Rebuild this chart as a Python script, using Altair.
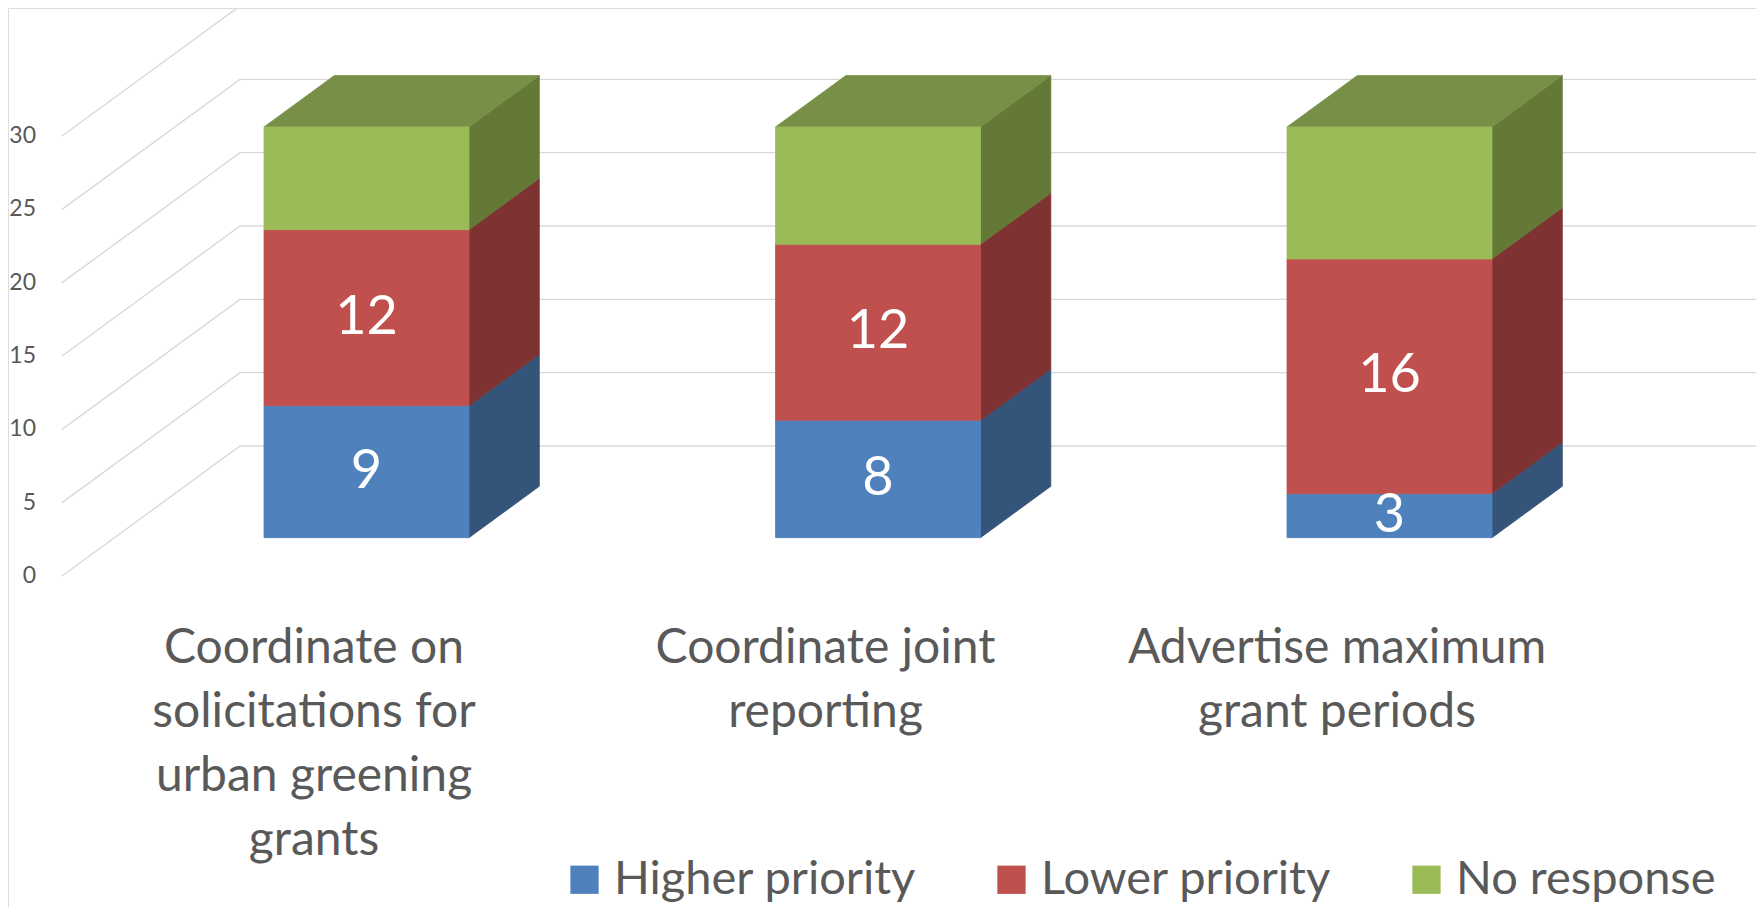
import altair as alt
import pandas as pd

# ---------------- data ----------------
categories = [
    "Coordinate on solicitations for urban greening grants",
    "Coordinate joint reporting",
    "Advertise maximum grant periods",
]
category_lines = [
    "Coordinate on\nsolicitations for\nurban greening\ngrants",
    "Coordinate joint\nreporting",
    "Advertise maximum\ngrant periods",
]
series = ["Higher priority", "Lower priority", "No response"]
higher_priority = [9, 8, 3]
lower_priority = [12, 12, 16]
no_response = [7, 8, 9]
labelled_series = ["Higher priority", "Lower priority"]
y_ticks = [0, 5, 10, 15, 20, 25, 30]

# ---------------- styles ----------------
front_colors = ["#4F81BD", "#C0504D", "#9BBB59"]
side_colors = ["#345479", "#7E3332", "#647936"]
top_colors = ["#4068A0", "#A0403E", "#778F46"]
grid_color = "#D9D9D9"
text_color = "#595959"
FONT = "Lato"

# ---------------- layout / projection ----------------
W, H = 1748, 899
X0_PX, X_STEP = 306.0, 511.5        # px of category 0 on the front edge, px per category
Y0_PX, Y_UNIT = 568.0, 14.667       # px of value 0 on the front edge, px per unit
x_dom = [-X0_PX / X_STEP, (W - X0_PX) / X_STEP]
y_dom = [(Y0_PX - H) / Y_UNIT, Y0_PX / Y_UNIT]
DXU = 178.0 / X_STEP                # floor depth in x units
DVU = 130.0 / Y_UNIT                # floor depth in value units
ZF, ZB = 0.295, 0.69                # bar front / back depth fraction
BW = 205.0 / X_STEP                 # bar width in x units
XL = (54.0 - X0_PX) / X_STEP        # left end of the gridlines

xs = alt.Scale(domain=x_dom, nice=False, zero=False)
ys = alt.Scale(domain=y_dom, nice=False, zero=False)

values = {"Higher priority": higher_priority, "Lower priority": lower_priority, "No response": no_response}

seg_rows = []
for i, cat in enumerate(categories):
    base = 0
    for s in series:
        v = values[s][i]
        seg_rows.append(dict(cat=cat, idx=i, series=s, value=v, y0=base, y1=base + v, seg=f"{i}-{s}"))
        base += v
seg = pd.DataFrame(seg_rows)

# front faces
front = seg.copy()
front["fx0"] = front["idx"] - BW / 2 + ZF * DXU
front["fx1"] = front["idx"] + BW / 2 + ZF * DXU
front["fy0"] = front["y0"] + ZF * DVU
front["fy1"] = front["y1"] + ZF * DVU

# side faces (parallelograms)
side_rows = []
for _, r in seg.iterrows():
    for z in (ZF, ZB):
        side_rows.append(dict(seg=r["seg"], series=r["series"],
                              sx=r["idx"] + BW / 2 + z * DXU,
                              slo=r["y0"] + z * DVU, shi=r["y1"] + z * DVU))
side = pd.DataFrame(side_rows)

# top faces (only for the top segment of each bar)
top_rows = []
for i in range(len(categories)):
    r = seg[seg["idx"] == i].sort_values("y1").iloc[-1]
    for z in (ZF, ZB):
        top_rows.append(dict(seg=r["seg"], series=r["series"],
                             ty=r["y1"] + z * DVU,
                             tx0=r["idx"] - BW / 2 + z * DXU,
                             tx1=r["idx"] + BW / 2 + z * DXU))
top = pd.DataFrame(top_rows)

# gridlines: diagonal on the side wall, then along the back wall
grid_rows = []
for t in y_ticks:
    grid_rows.append(dict(tick=t, o=0, gx=XL, gy=t))
    grid_rows.append(dict(tick=t, o=1, gx=XL + DXU, gy=t + DVU))
    grid_rows.append(dict(tick=t, o=2, gx=x_dom[1], gy=t + DVU))
grid = pd.DataFrame(grid_rows)

# data labels
lab = seg[seg["series"].isin(labelled_series)].copy()
lab["lx"] = lab["idx"] + ZF * DXU
lab["ly"] = (lab["y0"] + lab["y1"]) / 2 + ZF * DVU

ticks = pd.DataFrame({"t": y_ticks, "label": [str(t) for t in y_ticks]})
cats = pd.DataFrame({"idx": list(range(len(categories))), "label": category_lines})

# ---------------- layers ----------------
grid_layer = alt.Chart(grid).mark_line(color=grid_color, strokeWidth=1.4).encode(
    x=alt.X("gx:Q", scale=xs, axis=None),
    y=alt.Y("gy:Q", scale=ys, axis=None),
    detail="tick:N",
    order="o:Q",
)

front_layer = alt.Chart(front).mark_rect(strokeWidth=0.8).encode(
    x=alt.X("fx0:Q", scale=xs, axis=None),
    x2="fx1:Q",
    y=alt.Y("fy0:Q", scale=ys, axis=None),
    y2="fy1:Q",
    color=alt.Color(
        "series:N",
        scale=alt.Scale(domain=series, range=front_colors),
        legend=alt.Legend(
            title=None, orient="none", legendX=553, legendY=848,
            direction="horizontal", symbolType="square", symbolSize=800,
            symbolStrokeWidth=0, symbolOpacity=1, labelFont=FONT, labelFontSize=47,
            labelColor=text_color, labelOffset=6, columnPadding=71,
            labelLimit=500, padding=0,
        ),
    ),
    stroke=alt.Stroke("series:N", scale=alt.Scale(domain=series, range=front_colors), legend=None),
)

side_layer = alt.Chart(side).mark_area(orient="vertical", strokeWidth=0.8).encode(
    x=alt.X("sx:Q", scale=xs, axis=None),
    y=alt.Y("slo:Q", scale=ys, axis=None),
    y2="shi:Q",
    detail="seg:N",
    color=alt.Color("series:N", scale=alt.Scale(domain=series, range=side_colors), legend=None),
    stroke=alt.Stroke("series:N", scale=alt.Scale(domain=series, range=side_colors), legend=None),
)

top_layer = alt.Chart(top).mark_area(orient="horizontal", strokeWidth=0.8).encode(
    y=alt.Y("ty:Q", scale=ys, axis=None),
    x=alt.X("tx0:Q", scale=xs, axis=None),
    x2="tx1:Q",
    detail="seg:N",
    color=alt.Color("series:N", scale=alt.Scale(domain=series, range=top_colors), legend=None),
    stroke=alt.Stroke("series:N", scale=alt.Scale(domain=series, range=top_colors), legend=None),
)

label_layer = alt.Chart(lab).mark_text(
    font=FONT, fontSize=54, color="white", align="center", baseline="middle"
).encode(
    x=alt.X("lx:Q", scale=xs, axis=None),
    y=alt.Y("ly:Q", scale=ys, axis=None),
    text="value:Q",
)

tick_layer = alt.Chart(ticks).mark_text(
    font=FONT, fontSize=23, color=text_color, align="right", baseline="middle"
).encode(
    x=alt.value(28),
    y=alt.Y("t:Q", scale=ys, axis=None),
    text="label:N",
)

cat_layer = alt.Chart(cats).mark_text(
    font=FONT, fontSize=48, color=text_color, align="center", baseline="alphabetic",
    lineBreak="\n", lineHeight=64,
).encode(
    x=alt.X("idx:Q", scale=xs, axis=None),
    y=alt.value(655),
    text="label:N",
)

chart = (
    alt.layer(grid_layer, side_layer, top_layer, front_layer, label_layer, tick_layer, cat_layer)
    .resolve_scale(color="independent", stroke="independent")
    .properties(width=W, height=H, padding=0, autosize=alt.AutoSizeParams(type="none"))
    .configure_view(stroke=None, strokeWidth=0)
    .configure_axis(domain=False, grid=False, ticks=False, labels=False)
    .configure(font=FONT)
)

chart.save("out.html", embed_options={"renderer": "svg", "actions": False})
